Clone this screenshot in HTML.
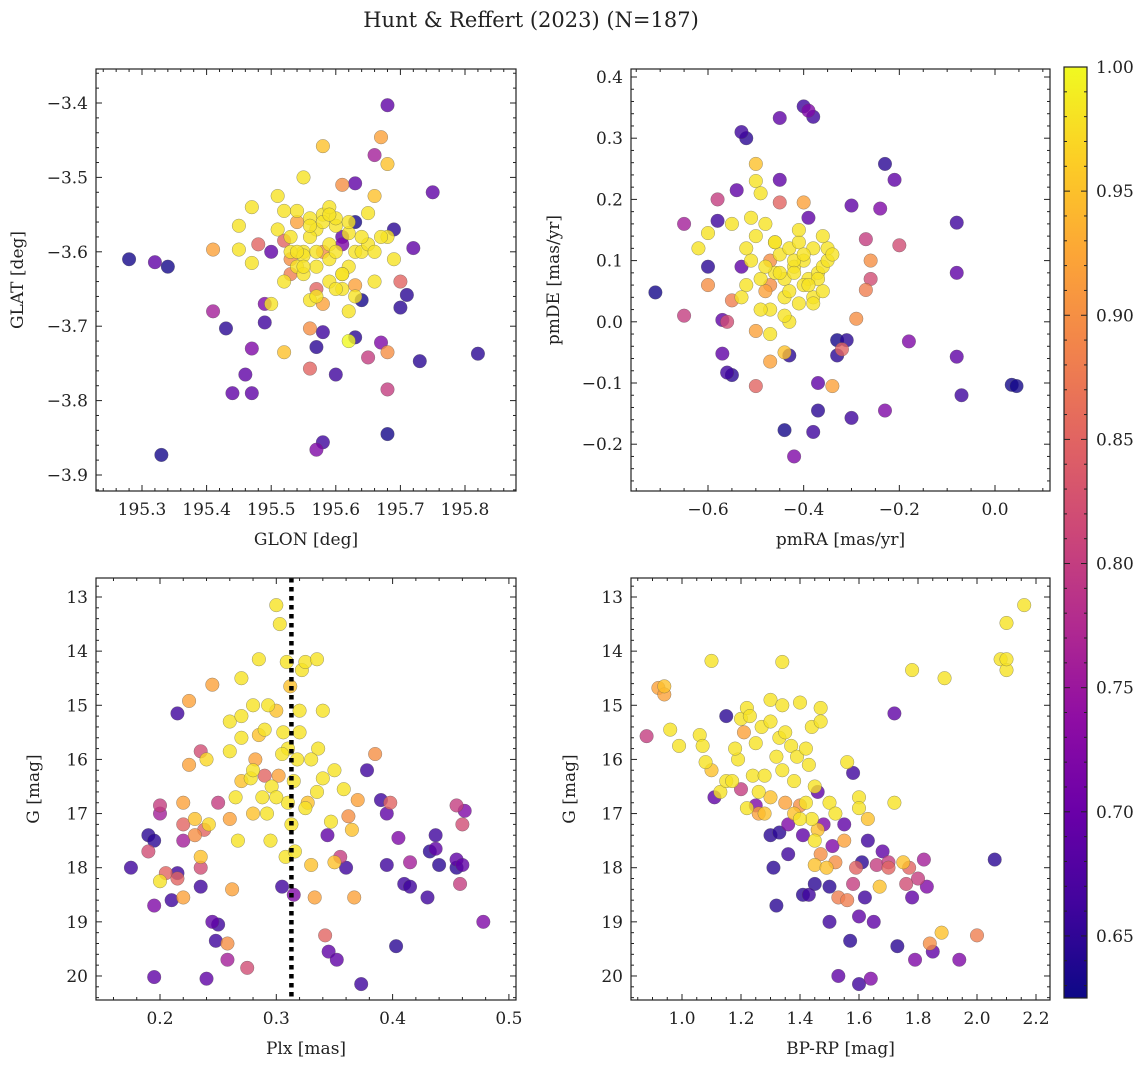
<!DOCTYPE html>
<html><head><meta charset="utf-8">
<style>
body{margin:0;background:#fff;}
svg text{font-family:"DejaVu Serif","Liberation Serif",serif;fill:#222;}
</style></head>
<body>
<svg id="fig" width="1148" height="1067" viewBox="0 0 1148 1067" xmlns="http://www.w3.org/2000/svg">
<defs>
<linearGradient id="cbg" x1="0" y1="1" x2="0" y2="0">
<stop offset="0" stop-color="#0d0887"/><stop offset="0.1" stop-color="#41049d"/><stop offset="0.2" stop-color="#6a00a8"/><stop offset="0.3" stop-color="#8f0da4"/><stop offset="0.4" stop-color="#b12a90"/><stop offset="0.5" stop-color="#cc4778"/><stop offset="0.6" stop-color="#e16462"/><stop offset="0.7" stop-color="#f2844b"/><stop offset="0.8" stop-color="#fca636"/><stop offset="0.9" stop-color="#fcce25"/><stop offset="1" stop-color="#f0f921"/>
</linearGradient>
</defs>
<text x="531" y="27" font-size="21" text-anchor="middle">Hunt &amp; Reffert (2023) (N=187)</text>
</svg>
<script>
// Panel 1: GLON vs GLAT
const p1Glon=[195.28,195.32,195.34,195.33,195.43,195.44,195.47,195.46,195.47,195.49,195.49,195.41,195.41,195.82,195.75,195.73,195.71,195.68,195.68,195.67,195.68,195.66,195.58,195.61,195.63,195.6,195.58,195.57,195.57,195.58,195.56,195.56,195.52,195.63,195.65,195.68,195.67,195.68,195.62,195.64,195.7,195.7,195.72,195.69,195.69,195.68,195.66,195.65,195.63,195.52,195.5,195.48,195.47,195.45,195.45,195.47,195.51,195.55,
195.52,195.53,195.54,195.55,195.56,195.57,195.58,195.59,195.6,195.61,195.62,195.63,195.52,195.54,195.56,195.57,195.58,195.59,195.6,195.61,195.62,195.64,195.53,195.55,195.57,195.59,195.61,195.63,195.65,195.54,195.56,195.58,195.6,195.62,195.64,195.66,195.51,195.53,195.55,195.57,195.59,195.61,195.63,195.56,195.58,195.6,195.62,195.55,195.57,195.59,195.54,195.61,195.66,195.67,195.53,195.5,195.6];
const p1Glat=[-3.61,-3.614,-3.62,-3.873,-3.703,-3.79,-3.79,-3.765,-3.73,-3.67,-3.695,-3.68,-3.597,-3.737,-3.52,-3.747,-3.658,-3.845,-3.403,-3.446,-3.482,-3.47,-3.458,-3.51,-3.508,-3.765,-3.856,-3.866,-3.728,-3.708,-3.703,-3.757,-3.735,-3.715,-3.742,-3.785,-3.722,-3.735,-3.72,-3.665,-3.675,-3.64,-3.595,-3.57,-3.61,-3.58,-3.525,-3.548,-3.56,-3.64,-3.6,-3.59,-3.615,-3.597,-3.565,-3.54,-3.525,-3.5,
-3.545,-3.58,-3.56,-3.6,-3.555,-3.57,-3.55,-3.59,-3.565,-3.58,-3.575,-3.6,-3.585,-3.62,-3.58,-3.62,-3.6,-3.61,-3.6,-3.59,-3.62,-3.6,-3.63,-3.605,-3.6,-3.64,-3.63,-3.645,-3.59,-3.545,-3.565,-3.56,-3.555,-3.56,-3.58,-3.6,-3.57,-3.6,-3.63,-3.65,-3.54,-3.65,-3.66,-3.665,-3.67,-3.65,-3.68,-3.62,-3.66,-3.55,-3.6,-3.63,-3.64,-3.58,-3.61,-3.67];
const p1Prob=[0.63,0.69,0.63,0.63,0.645,0.69,0.69,0.69,0.72,0.72,0.66,0.76,0.92,0.645,0.69,0.645,0.645,0.63,0.69,0.92,0.95,0.76,0.95,0.9,0.69,0.66,0.66,0.72,0.645,0.66,0.9,0.85,0.95,0.645,0.8,0.8,0.72,0.9,1.0,0.63,0.645,0.85,0.69,0.645,0.98,0.98,0.95,0.98,0.63,0.98,0.69,0.85,0.98,0.98,0.98,0.98,0.98,0.98,
0.98,0.98,0.92,0.98,0.98,0.98,0.98,0.98,0.98,0.69,0.98,0.98,0.85,0.98,0.98,0.98,0.9,0.98,0.98,0.72,0.98,0.98,0.88,0.98,0.98,0.98,0.98,0.92,0.98,0.98,0.98,0.98,0.98,0.98,0.98,0.98,0.98,0.98,0.98,0.85,0.98,0.98,0.98,0.98,0.92,0.98,0.98,0.98,0.98,0.98,0.98,0.98,0.98,0.98,0.9,0.98];

// Panel 2: pmRA vs pmDE
const p2Pmra=[-0.71,-0.65,-0.65,-0.6,-0.58,-0.53,-0.52,-0.5,-0.4,-0.39,-0.38,-0.45,-0.45,-0.23,-0.21,-0.08,-0.24,-0.3,-0.2,-0.27,-0.26,-0.27,-0.26,-0.29,-0.18,-0.08,-0.08,-0.07,0.035,0.045,-0.23,-0.3,-0.37,-0.38,-0.44,-0.42,-0.37,-0.34,-0.33,-0.31,-0.33,-0.32,-0.43,-0.5,-0.56,-0.55,-0.57,-0.6,-0.57,-0.55,-0.47,-0.44,
-0.62,-0.6,-0.58,-0.55,-0.53,-0.52,-0.5,-0.49,-0.48,-0.47,-0.46,-0.45,-0.44,-0.43,-0.42,-0.41,-0.4,-0.39,-0.38,-0.37,-0.36,-0.35,-0.52,-0.5,-0.48,-0.46,-0.44,-0.42,-0.4,-0.38,-0.36,-0.51,-0.49,-0.47,-0.45,-0.43,-0.41,-0.39,-0.37,-0.5,-0.48,-0.46,-0.44,-0.42,-0.4,-0.38,-0.53,-0.51,-0.49,-0.47,-0.45,-0.43,-0.41,-0.35,-0.34,-0.56,-0.54,-0.4,-0.36,-0.47,-0.39,-0.45];
const p2Pmde=[0.048,0.01,0.16,0.09,0.165,0.31,0.3,0.258,0.352,0.345,0.335,0.333,0.232,0.258,0.232,0.162,0.185,0.19,0.125,0.135,0.1,0.052,0.07,0.005,-0.032,0.08,-0.057,-0.12,-0.103,-0.105,-0.145,-0.157,-0.145,-0.18,-0.177,-0.22,-0.1,-0.105,-0.055,-0.03,-0.03,-0.045,-0.055,-0.105,-0.083,-0.087,-0.052,0.06,0.003,0.035,-0.065,-0.05,
0.12,0.145,0.2,0.16,0.09,0.12,0.23,0.07,0.16,0.1,0.13,0.11,0.07,0.12,0.09,0.13,0.1,0.07,0.12,0.08,0.09,0.1,0.06,0.14,0.05,0.08,0.04,0.1,0.06,0.04,0.05,0.17,0.21,0.02,0.195,0.0,0.15,0.17,0.07,-0.015,0.09,0.13,0.01,0.08,0.11,0.03,0.04,0.1,0.02,0.06,0.08,0.05,0.03,0.12,0.11,0.0,0.215,0.195,0.14,-0.02,0.06,0.085];
const p2Prob=[0.63,0.8,0.76,0.645,0.66,0.66,0.645,0.95,0.66,0.72,0.66,0.69,0.69,0.645,0.69,0.66,0.72,0.69,0.82,0.8,0.9,0.88,0.82,0.9,0.72,0.69,0.69,0.66,0.63,0.63,0.72,0.66,0.645,0.66,0.63,0.72,0.69,0.92,0.645,0.645,0.63,0.85,0.645,0.85,0.66,0.645,0.69,0.9,0.69,0.88,0.92,0.95,
0.98,0.98,0.8,0.98,0.69,0.98,0.98,0.98,0.98,0.9,0.98,0.98,0.98,0.98,0.98,0.98,0.98,0.98,0.98,0.98,0.98,0.98,0.98,0.98,0.92,0.98,0.98,0.98,0.98,0.98,0.98,0.98,0.98,0.98,0.85,0.98,0.98,0.69,0.98,0.92,0.98,0.98,0.98,0.98,0.98,0.98,0.98,0.98,0.98,0.9,0.98,0.98,0.98,0.98,0.98,0.82,0.69,0.92,0.98,0.98,0.98];

// Panel 3: Plx vs G
const p3Plx=[0.175,0.19,0.195,0.19,0.195,0.195,0.2,0.2,0.2,0.205,0.21,0.215,0.215,0.215,0.22,0.22,0.22,0.22,0.225,0.225,0.23,0.23,0.235,0.235,0.235,0.235,0.238,0.24,0.24,0.242,0.245,0.245,0.248,0.25,0.25,0.258,0.258,0.26,0.26,0.262,0.265,0.267,0.27,0.27,0.27,0.275,0.278,0.28,0.28,0.282,0.285,0.285,0.288,0.29,0.292,0.293,0.296,0.3,0.3,0.302,0.303,0.305,0.306,0.308,0.309,0.31,0.312,0.313,0.315,0.316,0.318,0.32,0.322,0.325,0.327,0.33,0.333,0.335,0.336,0.34,0.342,0.344,0.345,0.347,0.35,0.35,0.352,0.355,0.358,0.36,0.362,0.365,0.367,0.37,0.373,0.378,0.385,0.39,0.395,0.395,0.398,0.403,0.405,0.41,0.415,0.415,0.43,0.432,0.437,0.437,0.44,0.455,0.455,0.455,0.458,0.46,0.462,0.46,0.478,0.33,0.34,0.32,0.31,0.3,0.295,0.325,0.28,0.26,0.27,0.305,0.335,0.315,0.29];
const p3G=[18.0,17.4,17.5,17.7,20.02,18.7,17.0,16.85,18.25,18.1,18.6,18.1,18.2,15.15,16.8,17.2,17.5,18.55,16.1,14.92,17.1,17.4,18.35,17.8,18.0,15.85,17.3,20.05,16.0,17.2,19.0,14.62,19.35,19.05,16.8,19.7,19.4,15.3,15.85,18.4,16.7,17.5,16.4,15.6,14.5,19.85,16.35,17.0,15.0,16.0,14.15,15.55,16.7,15.45,17.0,15.0,16.5,13.15,15.1,16.3,13.5,18.35,15.5,17.8,14.2,16.8,14.65,17.2,18.5,17.7,16.0,15.1,14.35,14.2,16.8,17.95,18.55,14.15,15.8,16.35,19.25,17.4,19.55,17.15,17.9,16.2,19.7,17.8,16.55,18.0,17.05,17.3,18.55,16.75,20.15,16.2,15.9,16.75,17.0,17.95,16.8,19.45,17.45,18.3,17.9,18.35,18.55,17.7,17.4,17.65,17.95,16.85,18.0,17.85,18.3,17.2,16.95,17.95,19.0,16.0,15.1,15.5,15.8,16.7,17.5,16.9,16.2,17.1,15.2,15.9,16.6,16.4,16.3];
const p3Prob=[0.66,0.645,0.645,0.82,0.69,0.72,0.76,0.8,0.98,0.85,0.66,0.66,0.85,0.66,0.92,0.85,0.76,0.92,0.92,0.92,0.95,0.9,0.66,0.95,0.82,0.82,0.85,0.69,0.97,0.97,0.69,0.92,0.66,0.66,0.8,0.76,0.9,0.98,0.98,0.92,0.98,0.98,0.95,0.98,0.98,0.82,0.98,0.95,0.98,0.92,0.98,0.95,0.98,0.98,0.98,0.98,0.98,0.98,0.95,0.92,0.98,0.66,0.98,0.98,0.98,0.98,0.95,0.98,0.72,0.98,0.98,0.98,0.98,0.98,0.95,0.95,0.92,0.98,0.98,0.98,0.85,0.69,0.69,0.98,0.95,0.98,0.69,0.8,0.98,0.66,0.9,0.95,0.92,0.92,0.66,0.66,0.9,0.66,0.69,0.66,0.85,0.645,0.72,0.66,0.76,0.66,0.66,0.645,0.66,0.69,0.645,0.8,0.645,0.69,0.8,0.82,0.72,0.69,0.72,0.98,0.98,0.98,0.98,0.98,0.98,0.98,0.98,0.92,0.98,0.98,0.98,0.98,0.85];

// Panel 4: BP-RP vs G
const p4Col=[0.88,0.92,0.94,0.94,0.96,0.99,1.06,1.07,1.08,1.1,1.1,1.11,1.13,1.15,1.15,1.17,1.19,1.2,1.2,1.21,1.22,1.22,1.23,1.24,1.25,1.26,1.26,1.27,1.28,1.28,1.3,1.3,1.3,1.31,1.32,1.32,1.33,1.33,1.34,1.34,1.35,1.36,1.36,1.37,1.38,1.38,1.39,1.4,1.4,1.41,1.41,1.42,1.43,1.43,1.44,1.44,1.45,1.45,1.45,1.46,1.47,1.47,1.47,1.48,1.49,1.5,1.5,1.51,1.52,1.53,1.53,1.55,1.56,1.56,1.57,1.58,1.58,1.59,1.6,1.6,1.61,1.62,1.63,1.63,1.64,1.65,1.66,1.67,1.68,1.7,1.72,1.72,1.73,1.75,1.76,1.77,1.78,1.78,1.79,1.8,1.82,1.83,1.84,1.85,1.88,1.89,1.94,2.0,2.06,2.08,2.1,2.1,2.1,2.16,1.35,1.45,1.5,1.4,1.55,1.3,1.25,1.42,1.52,1.6,1.46,1.34,1.18,1.6,1.7];
const p4G=[15.57,14.68,14.65,14.8,15.45,15.75,15.55,15.75,16.05,14.18,16.2,16.7,16.6,16.4,15.2,16.4,16.0,15.25,16.55,15.5,15.05,16.9,15.2,16.3,16.85,16.6,17.0,15.4,16.3,17.0,14.9,17.4,16.7,18.0,18.7,15.95,17.35,15.6,14.2,15.0,16.8,17.2,17.75,15.75,16.4,17.0,15.95,14.95,16.85,17.4,18.5,15.8,18.5,16.1,15.4,17.1,17.5,18.3,17.95,16.6,15.3,15.05,17.75,17.2,18.0,19.0,18.35,17.6,17.9,20.0,18.55,17.2,16.05,18.6,19.35,16.25,18.3,18.0,20.15,16.7,17.9,18.55,17.1,17.5,20.05,19.0,17.95,18.35,17.7,17.9,15.15,16.8,19.45,17.9,18.3,18.0,14.35,18.55,19.7,18.2,17.85,18.35,19.4,19.55,19.2,14.5,19.7,19.25,17.85,14.15,14.35,14.15,13.48,13.15,15.5,16.5,16.8,17.1,17.5,15.3,15.7,16.8,17.0,16.9,17.3,16.2,15.8,18.9,18.0];
const p4Prob=[0.8,0.92,0.95,0.92,0.98,0.98,0.98,0.98,0.98,0.98,0.95,0.69,0.98,0.98,0.645,0.98,0.98,0.98,0.8,0.92,0.98,0.98,0.98,0.98,0.72,0.98,0.92,0.98,0.98,0.95,0.98,0.645,0.95,0.645,0.645,0.98,0.645,0.98,0.98,0.98,0.92,0.72,0.66,0.98,0.98,0.95,0.98,0.98,0.9,0.69,0.645,0.98,0.66,0.98,0.98,0.98,0.98,0.645,0.95,0.69,0.98,0.98,0.9,0.72,0.95,0.66,0.645,0.72,0.9,0.69,0.88,0.69,0.98,0.88,0.645,0.66,0.8,0.85,0.66,0.98,0.645,0.66,0.95,0.66,0.72,0.69,0.8,0.95,0.69,0.8,0.69,0.98,0.645,0.95,0.82,0.85,0.98,0.69,0.72,0.8,0.76,0.72,0.9,0.69,0.95,0.98,0.72,0.88,0.645,0.98,0.98,0.98,0.98,0.98,0.98,0.98,0.98,0.98,0.92,0.98,0.98,0.98,0.98,0.98,0.95,0.98,0.98,0.69,0.85];

const cbTicks=[0.65,0.70,0.75,0.80,0.85,0.90,0.95,1.00];
const VMIN=0.625,VMAX=1.0;

const NS="http://www.w3.org/2000/svg";
const svg=document.getElementById('fig');
const stops=[[13,8,135],[65,4,157],[106,0,168],[143,13,164],[177,42,144],[204,71,120],[225,100,98],[242,132,75],[252,166,54],[252,206,37],[240,249,33]];
function cmap(v){let t=(v-VMIN)/(VMAX-VMIN);t=Math.max(0,Math.min(1,t))*10;const i=Math.min(9,Math.floor(t)),f=t-i;const a=stops[i],b=stops[i+1];return 'rgb('+a.map((c,k)=>Math.round(c+(b[k]-c)*f)).join(',')+')';}
function mk(tag,attrs,parent){const e=document.createElementNS(NS,tag);for(const k in attrs)e.setAttribute(k,attrs[k]);(parent||svg).appendChild(e);return e;}
function fmt(v,d){const s=v.toFixed(d);return v<0?'\u2212'+s.slice(1):s;}

function panel(cfg){
  const g=mk('g',{});
  
  
  const {x0,x1,y0,y1,xa,xb,ya,yb}=cfg;
  const sx=v=>x0+(v-xa)/(xb-xa)*(x1-x0);
  const sy=v=>y0+(v-ya)/(yb-ya)*(y1-y0);
  const clip='clip'+cfg.name;
  const cp=mk('clipPath',{id:clip},g);mk('rect',{x:x0,y:y0,width:x1-x0,height:y1-y0},cp);
  const pts=mk('g',{'clip-path':'url(#'+clip+')'},g);
  
  
  const n=Math.min(cfg.xs.length,cfg.ys.length,cfg.cs.length);
  const idx=[...Array(n).keys()].sort((a,b)=>cfg.cs[a]-cfg.cs[b]);
  for(const i of idx){
    const c=mk('circle',{cx:sx(cfg.xs[i]),cy:sy(cfg.ys[i]),r:6.8,fill:cmap(cfg.cs[i]),'fill-opacity':0.8,stroke:'#555','stroke-width':0.5,'stroke-opacity':0.6},pts);
    
    
  }
  if(cfg.vline!==undefined){
    const l=mk('line',{x1:sx(cfg.vline),x2:sx(cfg.vline),y1:y0,y2:y1,stroke:'#000','stroke-width':4.5,'stroke-dasharray':'4.5,4.5'},g);
    
    
  }
  mk('rect',{x:x0,y:y0,width:x1-x0,height:y1-y0,fill:'none',stroke:'#222','stroke-width':1.2},g);
  const xlo=Math.min(xa,xb),xhi=Math.max(xa,xb);
  const ms=cfg.xstep/cfg.xminor;
  for(let k=Math.ceil(xlo/ms-1e-6);k*ms<=xhi+1e-9;k++){
    const v=k*ms,X=sx(v),major=Math.abs(Math.round(v/cfg.xstep)*cfg.xstep-v)<1e-6;const L=major?6:3;
    mk('line',{x1:X,x2:X,y1:y1,y2:y1-L,stroke:'#222','stroke-width':1},g);
    mk('line',{x1:X,x2:X,y1:y0,y2:y0+L,stroke:'#222','stroke-width':1},g);
    if(major){const t=mk('text',{x:X,y:y1+24,'font-size':17,'text-anchor':'middle'},g);t.textContent=fmt(v,cfg.xdec);
      }
  }
  const ylo=Math.min(ya,yb),yhi=Math.max(ya,yb);
  const ys=cfg.ystep/cfg.yminor;
  for(let k=Math.ceil(ylo/ys-1e-6);k*ys<=yhi+1e-9;k++){
    const v=k*ys,Y=sy(v),major=Math.abs(Math.round(v/cfg.ystep)*cfg.ystep-v)<1e-6;const L=major?6:3;
    mk('line',{x1:x0,x2:x0+L,y1:Y,y2:Y,stroke:'#222','stroke-width':1},g);
    mk('line',{x1:x1,x2:x1-L,y1:Y,y2:Y,stroke:'#222','stroke-width':1},g);
    if(major){const t=mk('text',{x:x0-8,y:Y+6,'font-size':17,'text-anchor':'end'},g);t.textContent=fmt(v,cfg.ydec);
      }
  }
  const xl=mk('text',{x:(x0+x1)/2,y:y1+54,'font-size':17,'text-anchor':'middle'},g);xl.textContent=cfg.xlabel;
  
  const yx=cfg.ylx;const yl=mk('text',{x:yx,y:(y0+y1)/2,'font-size':17,'text-anchor':'middle',transform:'rotate(-90 '+yx+' '+(y0+y1)/2+')'},g);yl.textContent=cfg.ylabel;
  
}

panel({name:'glon-glat-panel',x0:96,x1:516,y0:69,y1:491,xa:195.3-46/646,xb:195.3+374/646,ya:-3.4+34/744,yb:-3.4-388/744,xstep:0.1,xminor:5,ystep:0.1,yminor:5,xdec:1,ydec:1,xs:p1Glon,ys:p1Glat,cs:p1Prob,xlabel:'GLON [deg]',ylabel:'GLAT [deg]',ylx:23});
panel({name:'pm-panel',x0:631,x1:1050,y0:69,y1:491,xa:-0.6-77*0.6/287,xb:-0.6+342*0.6/287,ya:0.4+8/612,yb:0.4-414/612,xstep:0.2,xminor:4,ystep:0.1,yminor:5,xdec:1,ydec:1,xs:p2Pmra,ys:p2Pmde,cs:p2Prob,xlabel:'pmRA [mas/yr]',ylabel:'pmDE [mas/yr]',ylx:559});
panel({name:'plx-g-panel',x0:96,x1:516,y0:578,y1:1000,xa:0.2-64/1163,xb:0.2+356/1163,ya:13-19/54.14,yb:13+403/54.14,xstep:0.1,xminor:5,ystep:1,yminor:5,xdec:1,ydec:0,xs:p3Plx,ys:p3G,cs:p3Prob,vline:0.313,xlabel:'Plx [mas]',ylabel:'G [mag]',ylx:39});
panel({name:'cmd-panel',x0:631,x1:1050,y0:578,y1:1000,xa:1.0-51/295,xb:1.0+368/295,ya:13-19/54.14,yb:13+403/54.14,xstep:0.2,xminor:4,ystep:1,yminor:5,xdec:1,ydec:0,xs:p4Col,ys:p4G,cs:p4Prob,xlabel:'BP-RP [mag]',ylabel:'G [mag]',ylx:575});

const cb=mk('g',{});


const cx0=1064,cx1=1087,cy0=67,cy1=998;
mk('rect',{x:cx0,y:cy0,width:cx1-cx0,height:cy1-cy0,fill:'url(#cbg)',stroke:'#222','stroke-width':1.2},cb);
const cy=v=>cy1-(v-VMIN)/(VMAX-VMIN)*(cy1-cy0);
for(let k=Math.ceil(VMIN/0.01-1e-6);k*0.01<=VMAX+1e-9;k++){
  const v=k*0.01,Y=cy(v),major=k%5===0,L=major?6:3;
  mk('line',{x1:cx1,x2:cx1-L,y1:Y,y2:Y,stroke:'#222','stroke-width':1},cb);
  mk('line',{x1:cx0,x2:cx0+L,y1:Y,y2:Y,stroke:'#222','stroke-width':1},cb);
}
for(const v of cbTicks){
  const t=mk('text',{x:cx1+9,y:cy(v)+6,'font-size':17},cb);t.textContent=v.toFixed(2);
  
  
}
</script>
</body></html>
